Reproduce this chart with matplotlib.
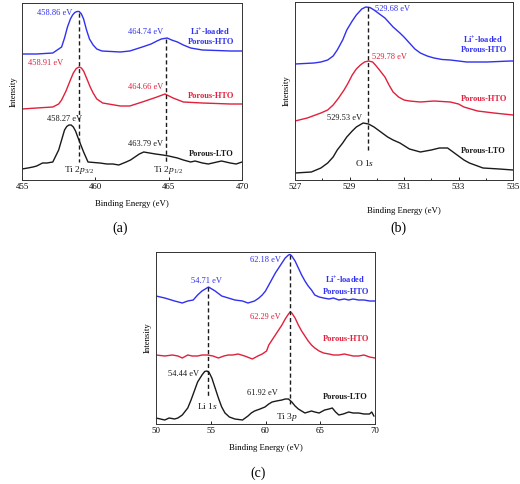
import matplotlib
matplotlib.use('Agg')
import matplotlib.pyplot as plt

plt.rcParams['font.family'] = ['Liberation Serif', 'DejaVu Serif']
plt.rcParams['mathtext.fontset'] = 'custom'
plt.rcParams['mathtext.rm'] = 'Liberation Serif'
plt.rcParams['mathtext.it'] = 'Liberation Serif:italic'
plt.rcParams['mathtext.bf'] = 'Liberation Serif:bold'
plt.rcParams['lines.solid_joinstyle'] = 'round'

BLUE = '#3030f0'
RED = '#e0203c'
BLACK = '#1a1a1a'

# ---- (a) Ti 2p ----
a_blue_x = [455, 456, 457.1, 457.7, 457.9, 458.1, 458.3, 458.45, 458.6, 458.75, 458.9, 459.05, 459.2,
            459.4, 459.6, 459.85, 460.1, 460.45, 461.7, 462.35, 463.2, 463.8, 464.2, 464.5, 464.9,
            465.2, 465.6, 466.0, 466.5, 467.3, 468.3, 469.2, 470]
a_blue_y = [126, 126, 127, 133, 142, 153, 161, 165, 167.5, 168.5, 168.5, 166, 161,
            150, 141, 135, 131, 129, 128, 129, 133, 136, 139, 141, 142,
            140, 138, 135, 132, 130, 129.5, 129, 129]
a_red_x = [455, 456, 457.1, 457.5, 457.7, 458.0, 458.3, 458.5, 458.7, 458.9, 459.05, 459.2, 459.4,
           459.65, 459.85, 460.1, 460.5, 461.7, 462.35, 463.2, 463.8, 464.2, 464.75, 465.3, 466.0,
           467.3, 469.2, 470]
a_red_y = [71, 72, 73, 76, 80, 89, 100, 107, 111.5, 113, 112, 109, 102,
           93, 87, 81, 77, 74, 74, 78, 81, 83, 86, 82, 78,
           77, 76, 76]
a_black_x = [455, 455.4, 455.75, 456.0, 456.4, 456.7, 457.1, 457.5, 457.9, 458.05, 458.2, 458.35, 458.5,
             458.65, 458.8, 459.2, 459.5, 460.3, 460.8, 461.2, 461.6, 462.1, 462.4, 462.7, 463.0, 463.3,
             463.7, 464.1, 464.6, 465.0, 465.3, 465.6, 466.0, 466.5, 466.8, 467.3, 467.7, 468.3, 468.6,
             469.2, 469.6, 470]
a_black_y = [11, 12, 13, 14, 17, 17, 18, 30, 50, 53.5, 55, 55, 53,
             49, 43, 28, 18, 17, 16, 16, 15, 18, 20, 23, 26, 28,
             27, 26, 25, 24, 23, 22, 20, 18, 19, 17, 16, 18, 19,
             17, 16, 18]

# ---- (b) O 1s ----
b_blue_x = [527, 527.7, 527.95, 528.2, 528.4, 528.55, 528.75, 528.9, 529.1, 529.25, 529.45, 529.6, 529.75,
            529.9, 530.1, 530.3, 530.6, 530.85, 531.0, 531.2, 531.4, 531.6, 531.85, 532.1, 532.4, 532.7,
            533.3, 534.05, 534.9, 535]
b_blue_y = [116, 117, 118, 120, 124, 130, 140, 150, 159, 165, 171, 173, 172.5,
            170, 166, 162, 153, 147, 143, 137, 131, 127, 124, 122, 120.5, 120,
            118, 118, 119, 119]
b_red_x = [527, 527.45, 527.95, 528.2, 528.4, 528.6, 528.8, 528.95, 529.1, 529.25, 529.4, 529.55, 529.7,
           529.85, 529.95, 530.1, 530.3, 530.45, 530.6, 530.8, 531.0, 531.2, 531.6, 532.1, 532.4, 532.7,
           533.0, 533.2, 533.7, 534.3, 535]
b_red_y = [59, 62, 67, 70, 75, 82, 90, 97, 105, 111, 115, 118, 119,
           118, 115, 110, 103, 95, 88, 83, 80, 79, 78, 79, 78.5, 78,
           76, 73, 69, 67, 65]
b_black_x = [527, 527.6, 527.95, 528.2, 528.4, 528.55, 528.75, 528.9, 529.1, 529.25, 529.5, 529.7, 529.9,
             530.15, 530.4, 530.6, 530.85, 531.2, 531.6, 532.0, 532.3, 532.6, 532.95, 533.2, 533.4, 533.9,
             534.5, 535]
b_black_y = [7, 8, 12, 17, 23, 30, 37, 43, 49, 53, 57, 56, 53,
             48, 43, 40, 37, 31, 28, 30, 32, 32, 25, 20, 17, 12,
             11, 10]

# ---- (c) Li 1s / Ti 3p ----
c_blue_x = [50, 50.8, 51.7, 52.4, 52.9, 53.4, 53.8, 54.2, 54.5, 54.8, 55.1, 55.4, 56.0, 56.6, 57.2, 57.9,
            58.4, 59.0, 59.4, 59.7, 60.0, 60.3, 60.6, 60.9, 61.2, 61.5, 61.8, 62.1, 62.25, 62.4, 62.7, 63.0,
            63.3, 63.6, 63.9, 64.2, 64.5, 64.9, 65.3, 65.8, 66.2, 66.7, 67.2, 67.6, 68.0, 68.5, 69.0, 69.5,
            69.9, 70]
c_blue_y = [128, 126, 123, 121, 123, 124, 129, 133, 135, 137, 135, 133, 128, 126, 124, 123,
            121, 123, 126, 129, 133, 139, 145, 151, 156, 161, 166, 169, 169.5, 168, 163, 156,
            149, 143, 138, 134, 129, 127, 126, 125, 126, 124, 125, 124, 125, 124, 124, 123,
            123, 123]
c_red_x = [50, 50.8, 51.5, 52.0, 52.4, 52.9, 53.3, 53.8, 54.2, 54.7, 55.2, 55.7, 56.2, 56.6, 57.0, 57.5,
           58.1, 58.8, 59.3, 59.7, 60.1, 60.3, 60.6, 60.9, 61.2, 61.5, 61.8, 62.1, 62.25, 62.4, 62.7, 63.0,
           63.3, 63.6, 63.9, 64.2, 64.5, 64.9, 65.3, 65.8, 66.2, 66.7, 67.2, 67.6, 68.0, 68.5, 69.0, 69.5,
           70]
c_red_y = [69, 68, 69, 68, 66, 69, 68, 68, 69, 69, 68, 66, 68, 69, 69, 70,
           68, 65, 68, 70, 73, 79, 84, 89, 94, 99, 105, 110, 112, 111, 106, 99,
           93, 88, 83, 79, 76, 73, 71, 70, 69, 69, 70, 69, 68, 68, 69, 67,
           66]
c_black_x = [50, 50.4, 50.8, 51.2, 51.7, 52.0, 52.4, 52.9, 53.2, 53.5, 53.8, 54.2, 54.45, 54.65, 54.85,
             55.1, 55.4, 55.7, 56.0, 56.3, 56.7, 57.2, 57.9, 58.4, 58.7, 59.0, 59.5, 59.95, 60.3, 60.6,
             61.0, 61.5, 61.8, 62.1, 62.4, 62.7, 63.0, 63.3, 63.6, 63.9, 64.2, 64.5, 64.9, 65.4, 65.8,
             66.1, 66.4, 66.7, 67.1, 67.6, 68.0, 68.5, 69.0, 69.5, 69.7, 69.9]
c_black_y = [6, 5, 4, 6, 5, 6, 9, 16, 24, 33, 42, 49, 52.5, 53, 51.5,
             46, 36, 26, 17, 11, 7, 5, 4, 8, 11, 13, 15, 17, 20, 22,
             23, 24, 25, 25, 22, 18, 15, 13, 11, 12, 13, 12, 11, 14, 15,
             16, 12, 9, 10, 12, 11, 11, 10, 10, 12, 8]

a_ticks = [455, 460, 465, 470]
b_ticks = [527, 529, 531, 533, 535]
c_ticks = [50, 55, 60, 65, 70]

fig = plt.figure(figsize=(5.2, 4.84), dpi=100)
W, H = 520.0, 484.0


def make_axes(l, t, r, b):
    return fig.add_axes([l / W, 1 - b / H, (r - l) / W, (b - t) / H])


def style(ax, xlim, ylim, ticks, minor=None, xlab_pad=3):
    ax.set_xlim(*xlim)
    ax.set_ylim(*ylim)
    ax.set_xticks(ticks)
    if minor:
        ax.set_xticks(minor, minor=True)
    ax.set_yticks([])
    ax.tick_params(axis='x', which='both', direction='in', labelsize=6.3, pad=2, length=2.5, width=0.6)
    ax.tick_params(axis='x', which='minor', length=1.5)
    for s in ax.spines.values():
        s.set_linewidth(0.7)
        s.set_color('#333333')
    ax.set_xlabel('Binding Energy (eV)', fontsize=6.3, labelpad=xlab_pad)
    ax.set_ylabel('Intensity', fontsize=6.3, labelpad=3)


def lab(ax, x, y, s, c, bold=False, size=6):
    ax.text(x, y, s, color=c, fontsize=size, ha='center', va='center',
            fontweight='bold' if bold else 'normal')


LI = r'Li$^{\mathbf{+}}$-loaded'
LW = 1.0
DASH = (0, (3, 2))

# panel (a)
ax = make_axes(22, 3, 242, 180)
ax.plot(a_blue_x, a_blue_y, color=BLUE, lw=LW)
ax.plot(a_red_x, a_red_y, color=RED, lw=LW)
ax.plot(a_black_x, a_black_y, color=BLACK, lw=LW)
ax.plot([458.89, 458.89], [167, 18], ls=DASH, color=BLACK, lw=LW)
ax.plot([464.8, 464.8], [141, 18], ls=DASH, color=BLACK, lw=LW)
style(ax, (455, 470), (0, 177), a_ticks, xlab_pad=7)
lab(ax, 457.2, 167, '458.86 eV', BLUE)
lab(ax, 463.4, 148, '464.74 eV', BLUE)
lab(ax, 467.85, 148, LI, BLUE, bold=True)
lab(ax, 467.9, 138, 'Porous-HTO', BLUE, bold=True)
lab(ax, 456.6, 117, '458.91 eV', RED)
lab(ax, 463.4, 93, '464.66 eV', RED)
lab(ax, 467.9, 84, 'Porous-HTO', RED, bold=True)
lab(ax, 457.9, 61, '458.27 eV', BLACK)
lab(ax, 463.4, 36, '463.79 eV', BLACK)
lab(ax, 467.9, 26, 'Porous-LTO', BLACK, bold=True)
lab(ax, 458.9, 10, r'Ti 2$\mathit{p}_{3/2}$', BLACK, size=6.8)
lab(ax, 465.0, 10, r'Ti 2$\mathit{p}_{1/2}$', BLACK, size=6.8)
fig.text(120 / W, 1 - 228 / H, '(a)', fontsize=10, ha='center', va='center')

# panel (b)
ax = make_axes(295, 2, 513, 180)
ax.plot(b_blue_x, b_blue_y, color=BLUE, lw=LW)
ax.plot(b_red_x, b_red_y, color=RED, lw=LW)
ax.plot(b_black_x, b_black_y, color=BLACK, lw=LW)
ax.plot([529.68, 529.68], [173, 28], ls=DASH, color=BLACK, lw=LW)
style(ax, (527, 535), (0, 178), b_ticks, minor=[528, 530, 532, 534], xlab_pad=12)
lab(ax, 530.58, 171, '529.68 eV', BLUE)
lab(ax, 533.9, 140, LI, BLUE, bold=True)
lab(ax, 533.95, 130, 'Porous-HTO', BLUE, bold=True)
lab(ax, 530.47, 123, '529.78 eV', RED)
lab(ax, 533.92, 81, 'Porous-HTO', RED, bold=True)
lab(ax, 528.82, 62, '529.53 eV', BLACK)
lab(ax, 533.9, 29, 'Porous-LTO', BLACK, bold=True)
lab(ax, 529.57, 17, r'O 1$\mathit{s}$', BLACK, size=6.8)
fig.text(398 / W, 1 - 228 / H, '(b)', fontsize=10, ha='center', va='center')

# panel (c)
ax = make_axes(156, 252, 375, 424)
ax.plot(c_blue_x, c_blue_y, color=BLUE, lw=LW)
ax.plot(c_red_x, c_red_y, color=RED, lw=LW)
ax.plot(c_black_x, c_black_y, color=BLACK, lw=LW)
ax.plot([54.75, 54.75], [137, 27], ls=DASH, color=BLACK, lw=LW)
ax.plot([62.25, 62.25], [169, 20], ls=DASH, color=BLACK, lw=LW)
style(ax, (50, 70), (0, 172), c_ticks, xlab_pad=7)
lab(ax, 54.57, 143, '54.71 eV', BLUE)
lab(ax, 60.0, 164, '62.18 eV', BLUE)
lab(ax, 67.25, 144, LI, BLUE, bold=True)
lab(ax, 67.35, 132, 'Porous-HTO', BLUE, bold=True)
lab(ax, 60.0, 107, '62.29 eV', RED)
lab(ax, 67.35, 85, 'Porous-HTO', RED, bold=True)
lab(ax, 52.5, 50, '54.44 eV', BLACK)
lab(ax, 59.7, 31, '61.92 eV', BLACK)
lab(ax, 67.3, 27, 'Porous-LTO', BLACK, bold=True)
lab(ax, 54.66, 18, r'Li 1$\mathit{s}$', BLACK, size=6.8)
lab(ax, 62.0, 7, r'Ti 3$\mathit{p}$', BLACK, size=6.8)
fig.text(258 / W, 1 - 473 / H, '(c)', fontsize=10, ha='center', va='center')

fig.savefig('out.png', dpi=100)
